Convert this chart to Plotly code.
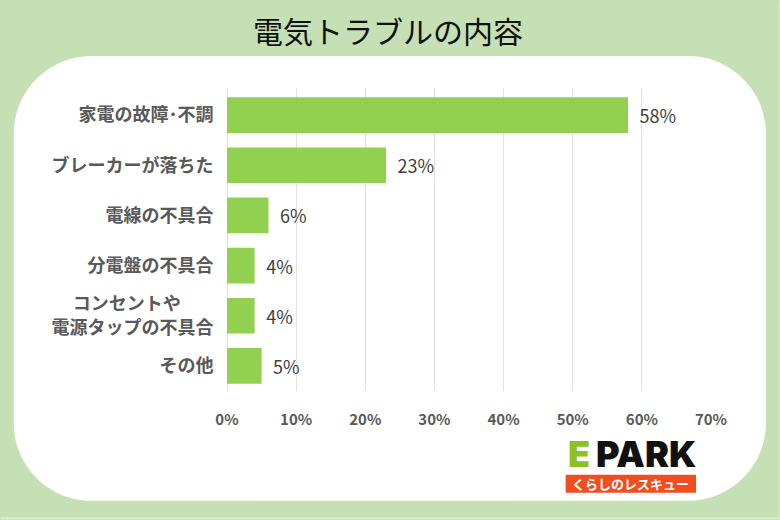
import plotly.graph_objects as go

categories = ["家電の故障･不調", "ブレーカーが落ちた", "電線の不具合", "分電盤の不具合",
              "コンセントや\u00a0\u00a0\u00a0\u00a0\u00a0\u00a0\u00a0\u00a0<br>電源タップの不具合", "その他"]
values = [58, 23, 6, 4, 4, 5]
x_ticks = [0, 10, 20, 30, 40, 50, 60, 70]

W, H = 780, 520
L, R, T, B = 226.5, 711, 88, 391.5
JP = "Noto Sans CJK JP"
GREEN = "#92d050"


# pixel position -> paper coordinates
def px(x):
    return (x - L) / (R - L)


def py(y):
    return (B - y) / (B - T)


def round_rect(x0, y0, x1, y1, r):
    k = r * 0.448  # control point offset for a circular corner
    pts = [("M", x0 + r, y0), ("L", x1 - r, y0), ("C", x1 - k, y0, x1, y0 + k, x1, y0 + r),
           ("L", x1, y1 - r), ("C", x1, y1 - k, x1 - k, y1, x1 - r, y1), ("L", x0 + r, y1),
           ("C", x0 + k, y1, x0, y1 - k, x0, y1 - r), ("L", x0, y0 + r),
           ("C", x0, y0 + k, x0 + k, y0, x0 + r, y0)]
    out = ""
    for p in pts:
        out += p[0]
        nums = p[1:]
        out += " ".join(f"{px(nums[i]):.5f},{py(nums[i + 1]):.5f}" for i in range(0, len(nums), 2))
    return out + "Z"


bars = go.Bar(
    y=categories,
    x=values,
    orientation="h",
    marker=dict(color=GREEN, line_width=0),
    width=0.71,
    text=[f"\u00a0\u2005{v}%" for v in values],
    textposition="outside",
    textfont=dict(family=JP, size=18, color="#404040"),
    cliponaxis=False,
    hoverinfo="skip",
)

fig = go.Figure(bars)

fig.update_layout(
    width=W,
    height=H,
    autosize=False,
    margin=dict(l=L, r=W - R, t=T, b=H - B, pad=0),
    paper_bgcolor="#c5e0b4",
    plot_bgcolor="rgba(0,0,0,0)",
    showlegend=False,
    xaxis=dict(
        range=[0, 70],
        tickvals=x_ticks,
        ticktext=[f"{t}%" for t in x_ticks],
        tickfont=dict(family=JP, size=15, color="#595959", weight="bold"),
        gridcolor="#e0e0e0",
        gridwidth=1,
        zeroline=True,
        zerolinecolor="#e0e0e0",
        zerolinewidth=1,
        showline=False,
        ticks="outside",
        ticklen=15,
        tickcolor="rgba(0,0,0,0)",
        automargin=False,
    ),
    yaxis=dict(
        range=[5.5, -0.54],
        tickfont=dict(family=JP, size=18, color="#595959", weight="bold"),
        showgrid=False,
        showline=False,
        zeroline=False,
        ticks="outside",
        ticklen=9,
        tickcolor="rgba(0,0,0,0)",
        automargin=False,
    ),
    shapes=[
        dict(type="path", xref="paper", yref="paper", layer="below",
             path=round_rect(13, 56, 766, 501.5, 78),
             fillcolor="white", line_width=0),
        dict(type="rect", xref="paper", yref="paper", layer="below",
             x0=px(0), x1=px(780), y0=py(520), y1=py(518),
             fillcolor="#dcecd2", line_width=0),
        dict(type="rect", xref="paper", yref="paper", layer="below",
             x0=px(779), x1=px(780), y0=py(520), y1=py(0),
             fillcolor="#dcecd2", line_width=0),
        dict(type="rect", xref="paper", yref="paper", layer="above",
             x0=px(565.5), x1=px(696), y0=py(493.5), y1=py(475.5),
             fillcolor="#f04e1e", line_width=0),
    ],
    annotations=[
        dict(text="電気トラブルの内容", xref="paper", yref="paper", x=px(387.5), y=py(30),
             showarrow=False, xanchor="center", yanchor="middle",
             font=dict(family=JP, size=30, color="#111111")),
        dict(text="E", xref="paper", yref="paper", x=px(578.5), y=py(455),
             showarrow=False, xanchor="center", yanchor="middle", height=32,
             font=dict(family="Inter", size=36, color="#8cc21f", weight=900)),
        dict(text="PARK", xref="paper", yref="paper", x=px(646), y=py(455),
             showarrow=False, xanchor="center", yanchor="middle", height=32,
             font=dict(family="Inter", size=36, color="#111111", weight=900)),
        dict(text="<b>くらしのレスキュー</b>", xref="paper", yref="paper", x=px(630.5), y=py(484.5),
             showarrow=False, xanchor="center", yanchor="middle",
             font=dict(family=JP, size=13, color="white")),
    ],
)

# page has a default 8px body margin, drop it so the figure fills the window
fig.write_html("out.html", config=dict(displayModeBar=False),
               post_script="document.body.style.margin='0';")
